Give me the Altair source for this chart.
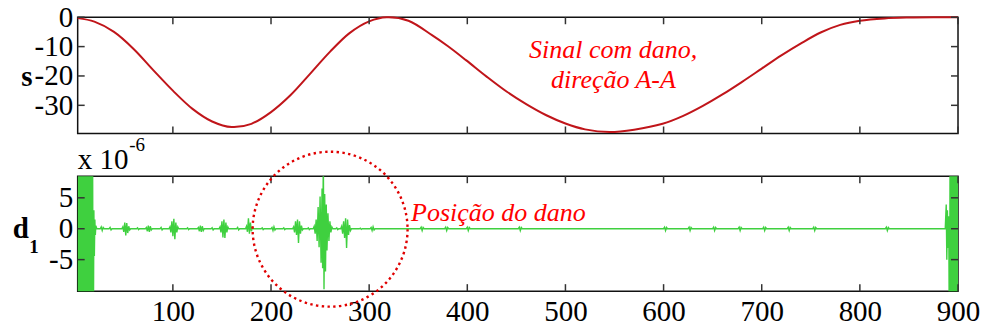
import altair as alt
import pandas as pd

# ---------------- data ----------------
s_x = [3, 20, 40, 60, 80, 100, 120, 140, 160, 180, 200, 220, 240, 260, 280, 300, 318,
       340, 364, 380, 399, 420, 440, 460, 480, 500, 520, 545, 570, 599, 620, 640, 660,
       680, 700, 720, 740, 760, 780, 800, 825, 850, 875, 900]
s_y = [-0.3, -1.5, -5.0, -10.8, -18.0, -25.0, -31.2, -35.5, -37.4, -36.3, -32.3, -26.5,
       -19.2, -11.8, -5.4, -1.4, 0.0, -1.2, -6.1, -9.8, -14.7, -20.3, -25.3, -29.6,
       -33.3, -36.2, -38.2, -39.1, -38.3, -36.3, -33.6, -30.2, -26.3, -22.0, -17.5,
       -13.0, -8.9, -5.2, -2.6, -1.2, -0.4, -0.1, 0.0, 0.0]

d1_x = [
    3, 4, 5, 6, 7, 8, 9, 10, 11, 12, 13, 14, 15, 16, 17, 18, 18.8,
    19.5, 20, 20.5, 21, 21.5, 22.5,
    26, 27, 28, 29, 30,
    35, 36, 37, 38,
    48, 49, 50, 51, 52, 53, 54, 55, 56, 57,
    63, 64, 65, 66,
    72, 73, 74, 75, 76, 77, 78, 79,
    87, 88, 89, 90,
    96, 97, 98, 99, 100, 101, 102, 103, 104, 105, 106,
    114, 115, 116, 117,
    125, 126, 127, 128, 129, 130, 131, 132,
    139, 140, 141, 142,
    147, 148, 149, 150, 151, 152, 153, 154, 155, 156, 157,
    165, 166, 167, 168,
    174, 175, 176, 177, 178, 179, 180, 181, 182,
    190, 191, 192, 193,
    200, 201, 202, 203, 204, 205,
    212, 213, 214, 215,
    222, 223, 224, 225, 226, 227, 228, 229, 230, 231, 232, 233,
    237, 238, 239, 240,
    243, 244, 245, 246, 247, 248, 249, 250, 251, 252, 252.6, 253.3, 254, 254.7, 255.5,
    256.3, 257, 258, 259, 260, 261, 262, 263,
    266, 267, 268, 269,
    271, 272, 273, 274, 275, 276, 277, 278, 279, 280, 281, 282,
    290, 291, 292, 293,
    301, 302, 303, 304, 305, 306,
    352, 353, 354, 355, 356,
    377, 378, 379, 380, 381,
    399, 400, 401, 402, 403,
    452, 453, 454, 455, 456,
    600, 601, 602, 603, 604,
    625, 626, 627, 628, 629,
    650, 651, 652, 653, 654,
    676, 677, 678, 679, 680,
    701, 702, 703, 704, 705,
    726, 727, 728, 729, 730,
    752, 753, 754, 755, 756,
    826, 827, 828, 829, 830,
    886, 887, 888, 888.6, 889.2, 889.9, 890.6, 891.3, 892.1, 892.9, 893.7, 894.5,
    895.3, 896.1, 896.9, 897.7, 898.5, 899.3, 900,
]
d1_y = [
    -25, 25, -25, 25, -25, 25, -25, 25, -25, 25, -25, 25, -25, 25, -25, 25, -25,
    3.0, -4.4, 1.5, -1.0, 0.5, 0,
    0, 0.3, -0.3, 0.2, 0,
    0, 0.2, -0.2, 0,
    0, 0.3, -0.5, 1.0, -1.1, 0.9, -0.7, 0.4, -0.2, 0,
    0, 0.15, -0.15, 0,
    0, 0.2, -0.4, 0.5, -0.5, 0.4, -0.2, 0,
    0, 0.2, -0.2, 0,
    0, 0.3, -0.6, 1.2, -1.2, 1.6, -1.7, 1.0, -0.6, 0.3, 0,
    0, 0.15, -0.15, 0,
    0, 0.2, -0.4, 0.5, -0.5, 0.4, -0.3, 0,
    0, 0.15, -0.2, 0,
    0, 0.3, -0.6, 1.2, -1.4, 1.5, -1.5, 1.0, -0.6, 0.3, 0,
    0, 0.2, -0.2, 0,
    0, 0.4, -0.5, 1.7, -0.8, 1.0, -0.4, 0.2, 0,
    0, 0.15, -0.15, 0,
    0, 0.2, -0.3, 0.3, -0.2, 0,
    0, 0.15, -0.15, 0,
    0, 0.3, -0.6, 1.2, -1.0, 1.5, -2.3, 1.2, -0.8, 0.5, -0.2, 0,
    0, 0.15, -0.15, 0,
    0, 0.4, -0.8, 1.5, -2.0, 3.5, -3.0, 5.2, -5.5, 6.5, -6.4, 12.0, -9.8, 5.6, -6.9,
    3.9, -3.5, 2.5, -2.0, 1.2, -0.6, 0.3, 0,
    0, 0.15, -0.15, 0,
    0, 0.4, -0.8, 1.2, -1.5, 1.7, -3.1, 1.5, -1.0, 0.6, -0.3, 0,
    0, 0.1, -0.1, 0,
    0, 0.2, -0.3, 0.3, -0.2, 0,
    0, 0.25, -0.3, 0.2, 0,
    0, 0.25, -0.3, 0.2, 0,
    0, 0.25, -0.3, 0.2, 0,
    0, 0.25, -0.3, 0.2, 0,
    0, 0.25, -0.3, 0.2, 0,
    0, 0.25, -0.3, 0.2, 0,
    0, 0.25, -0.3, 0.2, 0,
    0, 0.25, -0.3, 0.2, 0,
    0, 0.25, -0.3, 0.2, 0,
    0, 0.25, -0.3, 0.2, 0,
    0, 0.25, -0.3, 0.2, 0,
    0, 0.25, -0.3, 0.2, 0,
    0, 0, 3.9, -5.0, 3.0, -3.1, 2.0, -25, 25, -25, 25, -25,
    25, -25, 25, -25, 25, -25, 25,
]

x_ticks = [100, 200, 300, 400, 500, 600, 700, 800, 900]
s_ticks = [0, -10, -20, -30]
d1_ticks = [-5, 0, 5]

x_domain = [3, 900]
s_domain = [-39.6, 0]
d1_domain = [-10.1, 8.5]

# ---------------- layout constants ----------------
W = 880.6
H1 = 116.3
H2 = 115.0
TICK = 7
FONT = "Liberation Serif, Times New Roman, Times, serif"
FS = 29

s_df = pd.DataFrame({"x": s_x, "v": s_y})
d1_df = pd.DataFrame({"x": d1_x, "v": d1_y})
xt_df = pd.DataFrame({"x": x_ticks})
st_df = pd.DataFrame({"v": s_ticks})
dt_df = pd.DataFrame({"v": d1_ticks})
one = pd.DataFrame({"a": [0]})

xscale = alt.Scale(domain=x_domain, nice=False, zero=False)
sscale = alt.Scale(domain=s_domain, nice=False, zero=False)
dscale = alt.Scale(domain=d1_domain, nice=False, zero=False)

lab = "replace(datum.label, '\u2212', '-')"
axis_style = dict(title=None, labelExpr=lab, grid=False, ticks=False, domain=False,
                  labelFont=FONT, labelFontSize=FS, labelColor="#000000")

y_axis_s = alt.Axis(values=s_ticks, labelPadding=5, **axis_style)
y_axis_d = alt.Axis(values=d1_ticks, labelPadding=5, **axis_style)
x_axis_d = alt.Axis(values=x_ticks, labelPadding=6, labelFlush=False, **axis_style)

TICK_COLOR = "#333333"


def xtick_rules(axis, h):
    base = alt.Chart(xt_df).mark_rule(color=TICK_COLOR, strokeWidth=1.5)
    top = base.encode(x=alt.X("x:Q", scale=xscale, axis=axis),
                      y=alt.value(0), y2=alt.value(TICK))
    bot = base.encode(x=alt.X("x:Q", scale=xscale, axis=axis),
                      y=alt.value(h), y2=alt.value(h - TICK))
    return top, bot


def ytick_rules(df, scale, axis):
    base = alt.Chart(df).mark_rule(color=TICK_COLOR, strokeWidth=1.5)
    left = base.encode(y=alt.Y("v:Q", scale=scale, axis=axis),
                       x=alt.value(0), x2=alt.value(TICK))
    right = base.encode(y=alt.Y("v:Q", scale=scale, axis=axis),
                        x=alt.value(W), x2=alt.value(W - TICK))
    return left, right


def label(text, x, y, size=FS, **kw):
    return alt.Chart(one).mark_text(text=text, font=FONT, fontSize=size, align="left",
                                    baseline="alphabetic", **kw).encode(
        x=alt.value(x), y=alt.value(y))


# ---------------- top panel ----------------
s_line = alt.Chart(s_df).mark_line(color="#c0151a", strokeWidth=2,
                                   interpolate="catmull-rom").encode(
    x=alt.X("x:Q", scale=xscale, axis=None),
    y=alt.Y("v:Q", scale=sscale, axis=y_axis_s),
)
s_l, s_r = ytick_rules(st_df, sscale, y_axis_s)
sx_t, sx_b = xtick_rules(None, H1)
s_label = label("s", -56.5, 68.5, fontWeight="bold")
t1 = label("Sinal com dano,", 451.5, 40.5, size=26, fontStyle="italic", color="#ff0000")
t2 = label("direção A-A", 473.5, 71, size=26, fontStyle="italic", color="#ff0000")

top = alt.layer(s_line, sx_t, sx_b, s_l, s_r, s_label, t1, t2).properties(width=W, height=H1)

# ---------------- bottom panel ----------------
d_line = alt.Chart(d1_df).mark_line(color="#3fd03f", strokeWidth=1.4, clip=True).encode(
    x=alt.X("x:Q", scale=xscale, axis=x_axis_d),
    y=alt.Y("v:Q", scale=dscale, axis=y_axis_d),
)
d_l, d_r = ytick_rules(dt_df, dscale, y_axis_d)
dx_t, dx_b = xtick_rules(x_axis_d, H2)
d_label = label("d", -65, 61.5, fontWeight="bold")
d_sub = label("1", -48.5, 76.5, size=19, fontWeight="bold")
exp_a = label("x 10", 0, -7)
exp_b = label("-6", 51.5, -25, size=19)
pos_txt = label("Posição do dano", 333.5, 45, size=26, fontStyle="italic", color="#ff0000")
circle = alt.Chart(one).mark_point(shape="circle", size=24025, filled=False, opacity=1,
                                   stroke="#e00000", strokeWidth=2.4,
                                   strokeDash=[2.4, 3.4]).encode(
    x=alt.value(252.5), y=alt.value(53))

bottom = alt.layer(d_line, dx_t, dx_b, d_l, d_r, d_label, d_sub, exp_a, exp_b,
                   pos_txt, circle).properties(width=W, height=H2)

chart = alt.vconcat(top, bottom, spacing=42, bounds="flush").properties(
    padding={"left": 11.7, "top": 2.2, "right": 2, "bottom": 2},
    background="white",
).configure_view(
    stroke="#111111", strokeWidth=1.5
)

chart.save("out.html", embed_options={"renderer": "svg", "actions": False})
